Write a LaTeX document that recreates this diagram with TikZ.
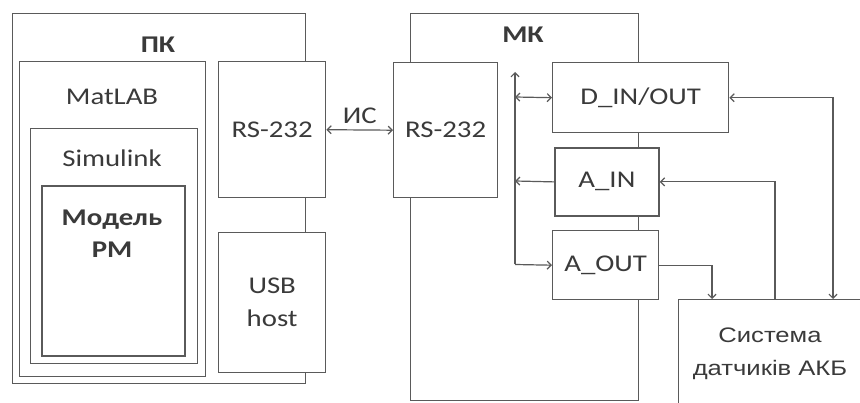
\documentclass[tikz,border=0pt]{standalone}
\usepackage{fontspec}
\setmainfont{Carlito}[FakeStretch=1.2]
\newfontfamily\sysfont{Liberation Sans}[FakeStretch=1.22]
\usetikzlibrary{arrows.meta}
\definecolor{ln}{HTML}{5A5A5A}
\definecolor{tx}{HTML}{3A3A3A}
\begin{document}
\begin{tikzpicture}[x=1pt,y=-1pt,
  box/.style={draw=ln,line width=1.4pt,fill=white,rectangle,inner sep=0pt,anchor=north west},
  lbl/.style={text=tx,font=\fontsize{24}{28}\selectfont,inner sep=0pt},
  blbl/.style={text=tx,font=\fontsize{24}{28}\selectfont\bfseries,inner sep=0pt,align=center},
  con/.style={draw=ln,line width=1.2pt},
  >={Straight Barb[length=4pt,width=8pt]}]
\useasboundingbox (0,0) rectangle (860,403);
\clip (0,0) rectangle (860,403);
% PC
\node[box,minimum width=293,minimum height=370] (pc) at (12,13) {};
\node[box,minimum width=186,minimum height=315] (matlab) at (19,61) {};
\node[box,minimum width=167,minimum height=235] (simulink) at (30,128) {};
\node[box,line width=2.4pt,minimum width=143,minimum height=170] (model) at (41,185) {};
\node[box,minimum width=107,minimum height=136] (rspc) at (218,61) {};
\node[box,minimum width=107,minimum height=140] (usb) at (218,232) {};
\node[blbl] (pct) at (158,45) {ПК};
\node[lbl] (mt) at (112,97) {MatLAB};
\node[lbl] (st) at (112,158) {Simulink};
\node[blbl] (mdt) at (112,234) {Модель\\[4pt]РМ};
\node[lbl] at (rspc.center) {RS-232};
\node[lbl,align=center] at (usb.center) {USB\\[5pt]host};
% MK
\node[box,minimum width=228,minimum height=387] (mk) at (410,13) {};
\node[box,minimum width=104,minimum height=135] (rsmk) at (393,62) {};
\node[box,minimum width=176,minimum height=70] (din) at (552,62) {};
\node[box,line width=1.8pt,minimum width=104,minimum height=68] (ain) at (554,147) {};
\node[box,minimum width=106,minimum height=69] (aout) at (552,230) {};
\node[blbl] (mkt) at (523,35) {МК};
\node[lbl] at (rsmk.center) {RS-232};
\node[lbl] at (din.center) {D\_IN/OUT};
\node[lbl] at (ain.center) {A\_IN};
\node[lbl] at (aout.center) {A\_OUT};
% sensors
\node[box,minimum width=184,minimum height=120] (sys) at (678,299) {};
\node[text=tx,font=\sysfont\fontsize{21}{33}\selectfont,align=center,inner sep=0pt] (syst) at (770,354) {Система\\датчиків АКБ};
% connectors
\draw[con,<->] (rspc.east) -- (rsmk.west) node[midway,above=6pt,lbl] (is) {ИС};
\coordinate (bustop) at (515,72);
\coordinate (busd) at (515,97);
\coordinate (busa) at (515,181);
\coordinate (busbot) at (515,264.5);
\draw[con,->] (busbot) -- (bustop);
\draw[con,->] (busbot) -- (aout.west);
\draw[con,<->] (busd) -- (din.west);
\draw[con,->] (ain.west) -- (busa);
\coordinate (s1) at (712,299);
\coordinate (s2) at (775,299);
\coordinate (s3) at (833,299);
\draw[con,->] (aout.east) -| (s1);
\draw[con,->] (s2) |- (ain.east);
\draw[con,<->] (din.east) -| (s3);
\end{tikzpicture}
\end{document}
